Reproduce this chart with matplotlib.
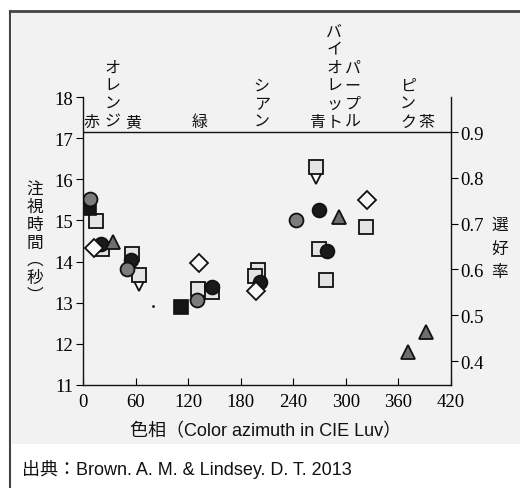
import numpy as np
import matplotlib.pyplot as plt
from matplotlib.patches import Rectangle
from matplotlib.lines import Line2D

plt.rcParams['font.family'] = ['Noto Sans CJK JP', 'DejaVu Sans']

# hue (CIE Luv azimuth) / fixation time (s)
bc_hue = [20, 55, 147, 202, 269, 278]
bc_time = [14.42, 14.03, 13.38, 13.5, 15.25, 14.25]
gc_hue = [8, 50, 130, 243]
gc_time = [15.51, 13.82, 13.06, 15.0]
bs_hue = [7, 112]
bs_time = [15.3, 12.9]
ls_hue = [15, 21.5, 56, 64, 131, 147, 200, 196, 266, 269, 277, 323]
ls_time = [14.98, 14.3, 14.18, 13.67, 13.33, 13.26, 13.79, 13.65, 16.29, 14.30, 13.55, 14.83]
dm_hue = [12, 132, 197, 324]
dm_time = [14.33, 13.96, 13.28, 15.49]
dt_hue = [64, 266]
dt_time = [13.45, 16.05]
dot_hue = [80]
dot_time = [12.92]
# preference rate (right axis)
tr_hue = [34, 292, 371, 392]
tr_pref = [0.66, 0.714, 0.42, 0.463]

color_names = ['赤', 'オレンジ', '黄', '緑', 'シアン', '青', 'バイオレット', 'パープル', 'ピンク', '茶']
color_pos = [10, 34, 57, 133, 204, 267, 287, 308, 371, 392]

xticks = [0, 60, 120, 180, 240, 300, 360, 420]
yticks_l = [11, 12, 13, 14, 15, 16, 17, 18]
yticks_r = [0.4, 0.5, 0.6, 0.7, 0.8, 0.9]

W, H = 520, 489
fig = plt.figure(figsize=(W / 100, H / 100), dpi=100)
fig.patch.set_facecolor('white')

# scanned page background + frame
fig.patches.append(Rectangle((12 / W, 1 - 445 / H), 1, (445 - 14) / H, transform=fig.transFigure,
                             facecolor='#f2f2f2', edgecolor='none', zorder=-10))
fig.lines.append(Line2D([10 / W, 1], [1 - 12 / H] * 2, transform=fig.transFigure,
                        color='#444444', lw=2, zorder=-5))
fig.lines.append(Line2D([10 / W] * 2, [0, 1 - 12 / H], transform=fig.transFigure,
                        color='#444444', lw=1.5, zorder=-5))

ax = fig.add_axes([83 / W, 1 - 386 / H, (451 - 83) / W, (386 - 98) / H])
ax.set_facecolor('none')
ax2 = ax.twinx()
ax2.set_facecolor('none')

serif = 'Liberation Serif'
ax.set_xlim(0, 420)
ax.set_ylim(11, 18)
ax2.set_ylim(0.3476, 0.9766)

for a in (ax, ax2):
    a.spines['top'].set_visible(False)
    for s in a.spines.values():
        s.set_linewidth(1.0)
        s.set_color('#111111')
ax.spines['right'].set_visible(False)
ax2.spines['left'].set_visible(False)
ax2.spines['bottom'].set_visible(False)

ax.set_xticks(xticks)
ax.set_yticks(yticks_l)
ax2.set_yticks(yticks_r)
ax2.set_yticklabels(['%.1f' % v for v in yticks_r])
ax.tick_params(axis='x', direction='in', length=5, pad=6)
ax.tick_params(axis='y', direction='out', length=5, pad=2)
ax2.tick_params(axis='y', direction='out', length=5, pad=2)
for lab in ax.get_xticklabels() + ax.get_yticklabels() + ax2.get_yticklabels():
    lab.set_fontfamily(serif)
    lab.set_fontsize(13.5)

ax2.axhline(0.9, color='#111111', lw=1.0)

ms = 10
ax.plot(ls_hue, ls_time, 's', ms=9.5, mfc='#e4e4e4', mec='#111111', mew=1.3, zorder=3)
ax.plot(dt_hue, dt_time, 'v', ms=10, mfc='#f8f8f8', mec='#111111', mew=1.3, zorder=2)
ax.plot(bs_hue, bs_time, 's', ms=10, mfc='#151515', mec='#111111', mew=1.2, zorder=3)
ax.plot(bc_hue, bc_time, 'o', ms=ms, mfc='#1a1a1a', mec='#111111', mew=1.2, zorder=4)
ax.plot(gc_hue, gc_time, 'o', ms=ms, mfc='#7c7c7c', mec='#111111', mew=1.3, zorder=5)
ax.plot(dm_hue, dm_time, 'D', ms=9, mfc='#f8f8f8', mec='#111111', mew=1.3, zorder=4)
ax.plot(dot_hue, dot_time, '.', ms=2, color='#111111', zorder=3)
ax2.plot(tr_hue, tr_pref, '^', ms=10, mfc='#6e6e6e', mec='#111111', mew=1.3, zorder=5)

# colour names stacked vertically above the line
for name, x in zip(color_names, color_pos):
    ax2.text(x, 0.905, '\n'.join(name), ha='center', va='bottom', fontsize=11.5,
             linespacing=1.08, color='#111111')

fig.text(35 / W, 1 - 243 / H, '\n'.join('注視時間︵秒︶'), ha='center', va='center',
         fontsize=12, linespacing=1.05, color='#111111')
fig.text(500 / W, 1 - 249 / H, '\n'.join('選好率'), ha='center', va='center',
         fontsize=12, linespacing=1.5, color='#111111')
sans = ['Liberation Sans', 'Noto Sans CJK JP']
fig.text(266 / W, 1 - 432 / H, '色相（Color azimuth in CIE Luv）', ha='center', va='center',
         fontsize=13, family=sans, color='#111111')
fig.text(22 / W, 1 - 470 / H, '出典：Brown. A. M. & Lindsey. D. T. 2013', ha='left', va='center',
         fontsize=13, family=sans, color='#111111')

fig.savefig('out.png', dpi=100)
